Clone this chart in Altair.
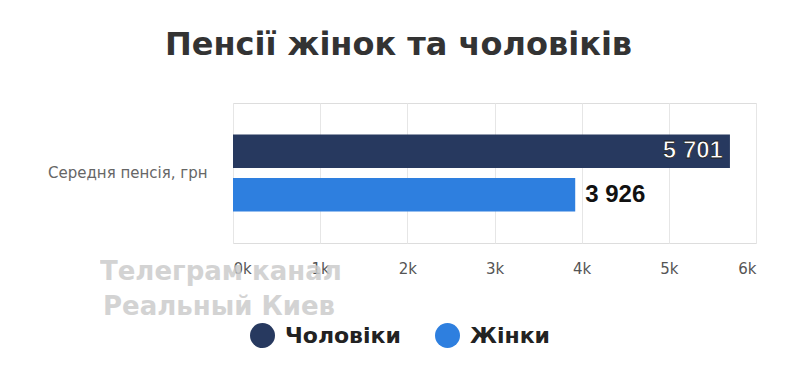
import altair as alt
import pandas as pd

category = ["Середня пенсія, грн"]
series = ["Чоловіки", "Жінки"]
values = [5701, 3926]
colors = ["#27395F", "#2E7FDF"]
x_ticks = [0, 1000, 2000, 3000, 4000, 5000, 6000]
watermark_lines = ["Телеграм канал", "Реальный Киев"]

df = pd.DataFrame({
    "cat": category * len(series),
    "series": series,
    "value": values,
    "label": [f"{v:,}".replace(",", " ") for v in values],
})

FONT = "DejaVu Sans"
NUMFONT = "Liberation Sans"

base = alt.Chart(df).encode(
    y=alt.Y("cat:N", title=None,
            scale=alt.Scale(paddingInner=0, paddingOuter=0.41),
            axis=alt.Axis(ticks=False, domain=False, labelFontSize=15,
                          labelColor="#666666", labelPadding=26, labelFont=FONT)),
    yOffset=alt.YOffset("series:N", sort=series,
                        scale=alt.Scale(paddingInner=0.23, paddingOuter=0)),
)

bars = base.mark_bar().encode(
    x=alt.X("value:Q", title=None,
            scale=alt.Scale(domain=[0, 6000], nice=False),
            axis=alt.Axis(values=x_ticks, format="~s", grid=True, gridColor="#e6e6e6",
                          ticks=False, domain=False, labelFontSize=15,
                          labelColor="#555555", labelPadding=18, labelFont=FONT)),
    color=alt.Color("series:N", sort=series,
                    scale=alt.Scale(domain=series, range=colors),
                    legend=alt.Legend(title=None, orient="none", direction="horizontal",
                                      legendX=17, legendY=220, symbolType="circle",
                                      symbolSize=625, symbolStrokeWidth=0, symbolOpacity=1,
                                      labelFontSize=22, labelFontWeight="bold",
                                      labelColor="#222222", labelFont=FONT,
                                      labelOffset=10, columnPadding=34, padding=0)),
)

text_in = base.mark_text(align="right", baseline="middle", dx=-7, fontSize=24,
                         fontWeight="bold", font=NUMFONT, color="white",
                         stroke="#222222", strokeWidth=0.8).encode(
    x="value:Q", text="label:N"
).transform_filter(alt.datum.series == series[0])

text_out = base.mark_text(align="left", baseline="middle", dx=10, fontSize=24,
                          fontWeight="bold", font=NUMFONT, color="#111111").encode(
    x="value:Q", text="label:N"
).transform_filter(alt.datum.series == series[1])

wm = pd.DataFrame({"line": watermark_lines})


def wm_text(i, x, y):
    return alt.Chart(wm.iloc[[i]]).mark_text(
        align="left", baseline="alphabetic", fontSize=26, fontWeight="bold",
        font=FONT, color="#cccccc", opacity=0.85,
    ).encode(x=alt.value(x), y=alt.value(y), text="line:N")


chart = alt.layer(bars, text_in, text_out,
                  wm_text(0, -133, 177), wm_text(1, -130, 212)).properties(
    width=523, height=140,
    title=alt.TitleParams("Пенсії жінок та чоловіків", fontSize=32, fontWeight="bold",
                          font=FONT, color="#333333", anchor="middle", dx=-96, offset=41),
    autosize=alt.AutoSizeParams(type="none"),
    padding={"left": 225, "top": 95, "right": 36, "bottom": 120},
).configure_view(stroke=None).configure(background="white")

chart.save("out.html", embed_options={"renderer": "svg", "actions": False})
